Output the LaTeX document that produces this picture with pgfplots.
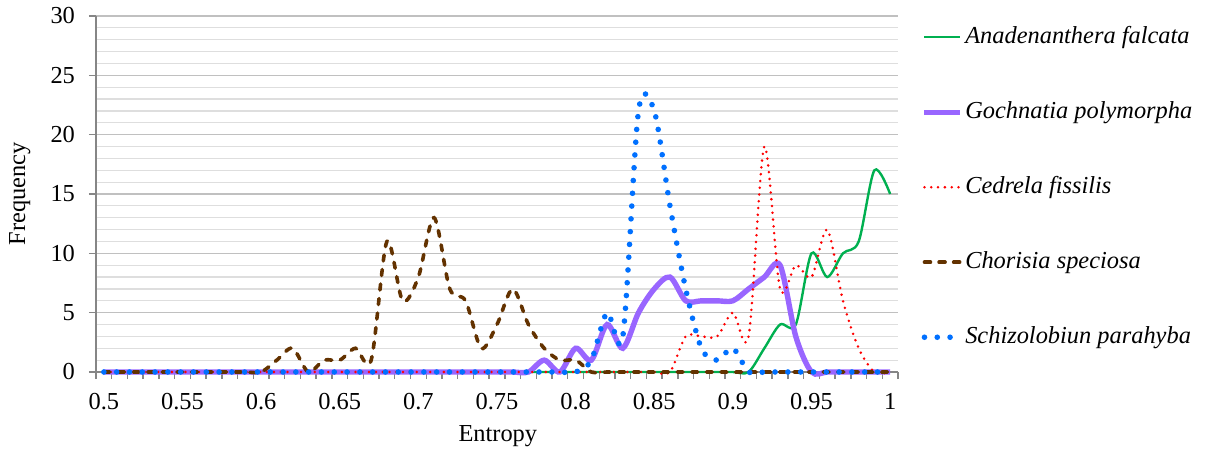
\documentclass[border=0pt]{standalone}
\usepackage{fontspec}
\setmainfont{Liberation Serif}
\usepackage{pgfplots}
\pgfplotsset{compat=1.18}
\usepackage{pgfplotstable}
\definecolor{agreen}{RGB}{0,176,80}
\definecolor{gpurple}{RGB}{153,102,255}
\definecolor{cred}{RGB}{255,0,0}
\definecolor{chbrown}{RGB}{99,50,0}
\definecolor{sblue}{RGB}{0,112,255}
\definecolor{axgray}{RGB}{134,134,134}
\definecolor{majgrid}{RGB}{192,192,192}
\definecolor{mingrid}{RGB}{222,222,222}
\newcommand\fs{\fontsize{12.2}{14.5}\selectfont}
\pgfplotstableread{
x A G C Ch S
0.50 0 0 0 0 0
0.51 0 0 0 0 0
0.52 0 0 0 0 0
0.53 0 0 0 0 0
0.54 0 0 0 0 0
0.55 0 0 0 0 0
0.56 0 0 0 0 0
0.57 0 0 0 0 0
0.58 0 0 0 0 0
0.59 0 0 0 0 0
0.60 0 0 0 0 0
0.61 0 0 0 1 0
0.62 0 0 0 2 0
0.63 0 0 0 0 0
0.64 0 0 0 1 0
0.65 0 0 0 1 0
0.66 0 0 0 2 0
0.67 0 0 0 1 0
0.68 0 0 0 11 0
0.69 0 0 0 6 0
0.70 0 0 0 8 0
0.71 0 0 0 13 0
0.72 0 0 0 7 0
0.73 0 0 0 6 0
0.74 0 0 0 2 0
0.75 0 0 0 4 0
0.76 0 0 0 7 0
0.77 0 0 0 4 0
0.78 0 1 0 2 0
0.79 0 0 0 1 0
0.80 0 2 0 1 0
0.81 0 1 0 0 1
0.82 0 4 0 0 5
0.83 0 2 0 0 3
0.84 0 5 0 0 22
0.85 0 7 0 0 22
0.86 0 8 0 0 14
0.87 0 6 3 0 7
0.88 0 6 3 0 2
0.89 0 6 3 0 1
0.90 0 6 5 0 2
0.91 0 7 3 0 0
0.92 2 8 19 0 0
0.93 4 9 7 0 0
0.94 4 3 9 0 0
0.95 10 0 8 0 0
0.96 8 0 12 0 0
0.97 10 0 6 0 0
0.98 11 0 2 0 0
0.99 17 0 0 0 0
1.00 15 0 0 0 0
}\data
\begin{document}
\begin{tikzpicture}
\useasboundingbox (-48pt,-39pt) rectangle (554.5pt,186pt);
\begin{axis}[
  at={(0pt,0pt)}, anchor=south west,
  scale only axis, width=401pt, height=178pt,
  xmin=0.495, xmax=1.005, ymin=0, ymax=30,
  clip=false,
  axis x line*=bottom, axis y line*=left,
  axis line style={draw=axgray, line width=0.7pt},
  tick style={draw=axgray, line width=0.7pt},
  tick align=outside,
  major tick length=3.5pt, minor tick length=0pt,
  xtick={0.495,0.505,...,1.005}, xticklabels={},
  extra x ticks={0.5,0.55,0.6,0.65,0.7,0.75,0.8,0.85,0.9,0.95,1},
  extra x tick labels={0.5,0.55,0.6,0.65,0.7,0.75,0.8,0.85,0.9,0.95,1},
  extra x tick style={major tick length=0pt, tick label style={yshift=-7pt}},
  ytick={0,5,...,30}, minor ytick={1,...,29},
  ymajorgrids, yminorgrids,
  major grid style={draw=majgrid, line width=0.6pt},
  minor grid style={draw=mingrid, line width=0.6pt},
  yticklabel style={xshift=-3.5pt},
  tick label style={font=\fs},
  /pgf/number format/assume math mode=true,
  xlabel={Entropy}, ylabel={Frequency},
  xlabel style={font=\fs, at={(axis description cs:0.501,-0.18)}, anchor=center},
  ylabel style={font=\fs, at={(axis description cs:-0.095,0.5)}, anchor=center},
  legend style={draw=none, fill=none, font=\fs\itshape, at={(axis description cs:1.029,0.978)}, anchor=north west,
     inner sep=0pt, row sep=24.5pt, column sep=0pt,
     nodes={inner sep=1pt, text height=8.5pt, text depth=2.5pt}},
  legend cell align=left,
  legend image code/.code={\draw[#1] (0pt,0pt) -- (18pt,0pt);},
]
\addplot[smooth, agreen, line width=1.2pt] table[x=x,y=A]{\data};
\addlegendentry{Anadenanthera falcata}
\addplot[smooth, gpurple, line width=2.7pt] table[x=x,y=G]{\data};
\addlegendentry{Gochnatia polymorpha}
\addplot[smooth, cred, line width=1.4pt, line cap=round, dash pattern=on 0pt off 3.4pt] table[x=x,y=C]{\data};
\addlegendentry{Cedrela fissilis}
\addplot[smooth, chbrown, line width=1.8pt, line cap=round, dash pattern=on 3pt off 4.3pt] table[x=x,y=Ch]{\data};
\addlegendentry{Chorisia speciosa}
\addplot[smooth, sblue, line width=2.8pt, line cap=round, dash pattern=on 0pt off 6.4pt] table[x=x,y=S]{\data};
\addlegendentry{Schizolobiun parahyba}
\end{axis}
\end{tikzpicture}
\end{document}
